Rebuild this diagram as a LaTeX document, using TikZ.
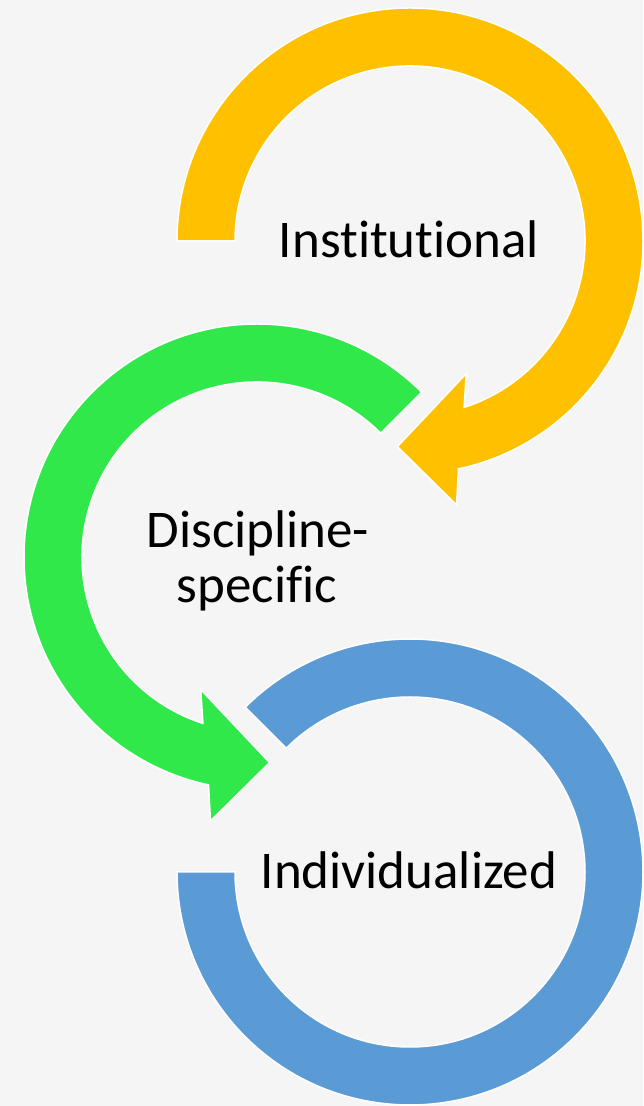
\documentclass[tikz,border=0pt]{standalone}
\usepackage{fontspec}
\setmainfont[Ligatures=NoCommon,RawFeature={-liga;-calt;-dlig;-clig}]{Carlito}
\definecolor{ringyellow}{RGB}{255,192,0}
\definecolor{ringgreen}{RGB}{48,232,74}
\definecolor{ringblue}{RGB}{91,155,213}
\definecolor{bgpaper}{RGB}{245,245,245}
\begin{document}
\begin{tikzpicture}[x=1pt,y=1pt,
  ring/.style={draw=white,line width=1.5pt,line join=miter},
  label/.style={anchor=base,inner sep=0pt,font=\fontsize{53}{55}\selectfont,text=black}]
\useasboundingbox (0,0) rectangle (643,1106);
\fill[bgpaper] (0,0) rectangle (643,1106);
% centres
\coordinate (yc) at (410,865);
\coordinate (gc) at (257,549);
\coordinate (bc) at (410,234);
% yellow arrow (clockwise)
\begin{scope}[shift={(yc)}]
\path[ring,fill=ringyellow] (180:233) arc[start angle=180,end angle=-78,radius=233]
  -- (-80:268) -- (-93.5:206) -- (-67:144) -- (-72:175)
  arc[start angle=-72,end angle=180,radius=175] -- cycle;
\end{scope}
% green arrow (counter-clockwise)
\begin{scope}[shift={(gc)}]
\path[ring,fill=ringgreen] (45:233) arc[start angle=45,end angle=258,radius=233]
  -- (260:268) -- (273.5:206) -- (247:144) -- (252:175)
  arc[start angle=252,end angle=45,radius=175] -- cycle;
\end{scope}
% blue ring
\begin{scope}[shift={(bc)}]
\path[ring,fill=ringblue] (135:233) arc[start angle=135,end angle=-180,radius=233]
  -- (-180:175) arc[start angle=-180,end angle=135,radius=175] -- cycle;
\end{scope}
% labels
\node[label] (inst) at (409,848) {Institutional};
\node[label] (disc) at (258,558) {Discipline-};
\node[label] (spec) at (257,503) {specific};
\node[label] (indiv) at (409,217) {Individualized};
\end{tikzpicture}
\end{document}
